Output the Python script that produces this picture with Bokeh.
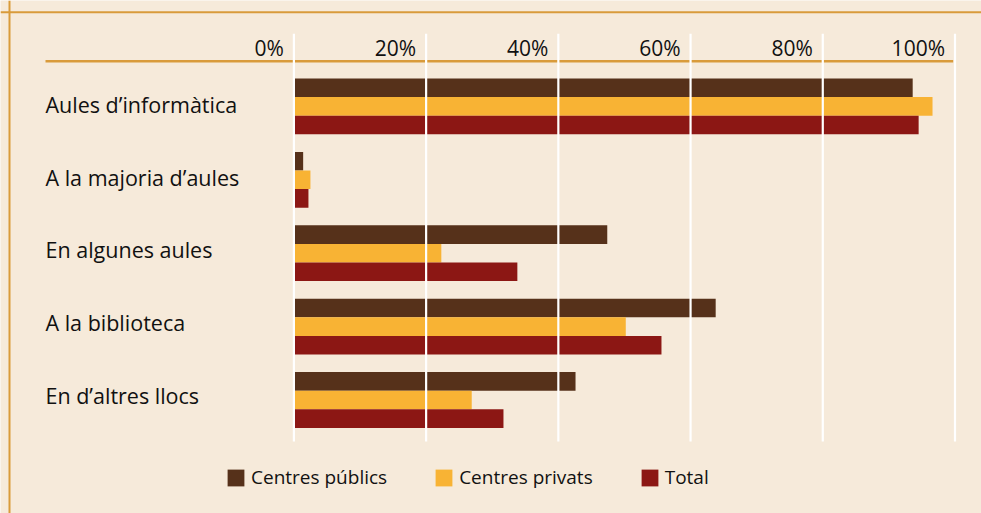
from bokeh.plotting import figure
from bokeh.models import Range1d, Span, Legend, LegendItem, ColumnDataSource
from bokeh.core.properties import value
from bokeh.embed import file_html
from bokeh.resources import INLINE

# ---------------- data ----------------
categories = ["Aules d’informàtica", "A la majoria d’aules", "En algunes aules",
              "A la biblioteca", "En d’altres llocs"]
centres_publics = [93.6, 1.4, 47.4, 63.8, 42.6]
centres_privats = [96.6, 2.5, 22.3, 50.2, 26.9]
total = [94.5, 2.2, 33.8, 55.6, 31.7]
series_names = ["Centres públics", "Centres privats", "Total"]
tick_values = [0, 20, 40, 60, 80, 100]
tick_labels = ["0%", "20%", "40%", "60%", "80%", "100%"]

# ---------------- style ----------------
BG = "#f6eada"
ORANGE_LINE = "#d99b3b"
COLORS = ["#56311a", "#f8b334", "#8c1714"]
FONT = "Open Sans"
TEXT_COLOR = "#111111"

W, H = 981, 513
PX_PER_PCT = 6.611
X0 = 293.4            # canvas x of 0%
UNIT = 73.4           # px per category
Y0 = 105.9            # canvas y of first category centre


def px(cx):
    return (cx - X0) / PX_PER_PCT


def py(cy):
    return (cy - Y0) / UNIT


p = figure(width=W, height=H, output_backend="svg", toolbar_location=None,
           x_range=Range1d(px(0), px(W)), y_range=Range1d(py(H), py(0)),
           x_axis_location=None, y_axis_location=None,
           min_border=0, background_fill_color=BG, border_fill_color=BG,
           outline_line_color=None)
p.grid.visible = False

# frame lines
p.add_layout(Span(location=py(11.8), dimension="width", line_color=ORANGE_LINE, line_width=2))
p.add_layout(Span(location=px(9), dimension="height", line_color=ORANGE_LINE, line_width=2))

# orange rule under tick labels
p.segment(x0=[px(45)], x1=[px(952.7)], y0=[py(60.7)], y1=[py(60.7)],
          line_color=ORANGE_LINE, line_width=2.5)

# bars
bh = 18.6 / UNIT
offsets = [-bh, 0.0, bh]
series = [centres_publics, centres_privats, total]
renderers = []
for vals, off, col in zip(series, offsets, COLORS):
    src = ColumnDataSource(dict(y=[i + off for i in range(len(categories))], right=vals))
    r = p.hbar(y="y", left=0, right="right", height=bh, source=src,
               fill_color=col, line_color=None)
    renderers.append(r)

# grid lines on top of bars
p.segment(x0=tick_values, x1=tick_values, y0=[py(33.3)] * len(tick_values),
          y1=[py(441)] * len(tick_values), line_color="white", line_width=2.2)

# tick labels
p.text(x=[t - 10 / PX_PER_PCT for t in tick_values], y=[py(47)] * len(tick_values),
       text=tick_labels, text_align="right", text_baseline="alphabetic",
       text_font=value(FONT), text_font_size="21px", text_color=TEXT_COLOR)

# category labels
p.text(x=[px(45)] * len(categories),
       y=[py(104.2 + 72.6 * i) for i in range(len(categories))],
       text=categories, text_align="left", text_baseline="middle",
       text_font=value(FONT), text_font_size="21.5px", text_color=TEXT_COLOR)

legend = Legend(items=[LegendItem(label=n, renderers=[r]) for n, r in zip(series_names, renderers)],
                orientation="horizontal", location=(225, 23),
                glyph_width=21, glyph_height=21, label_height=21,
                label_standoff=5, spacing=46, padding=0, margin=0,
                background_fill_alpha=0, border_line_color=None,
                label_text_font=FONT, label_text_font_size="19px",
                label_text_color=TEXT_COLOR)
p.add_layout(legend, "center")

open("out.html", "w").write(file_html(p, INLINE))
